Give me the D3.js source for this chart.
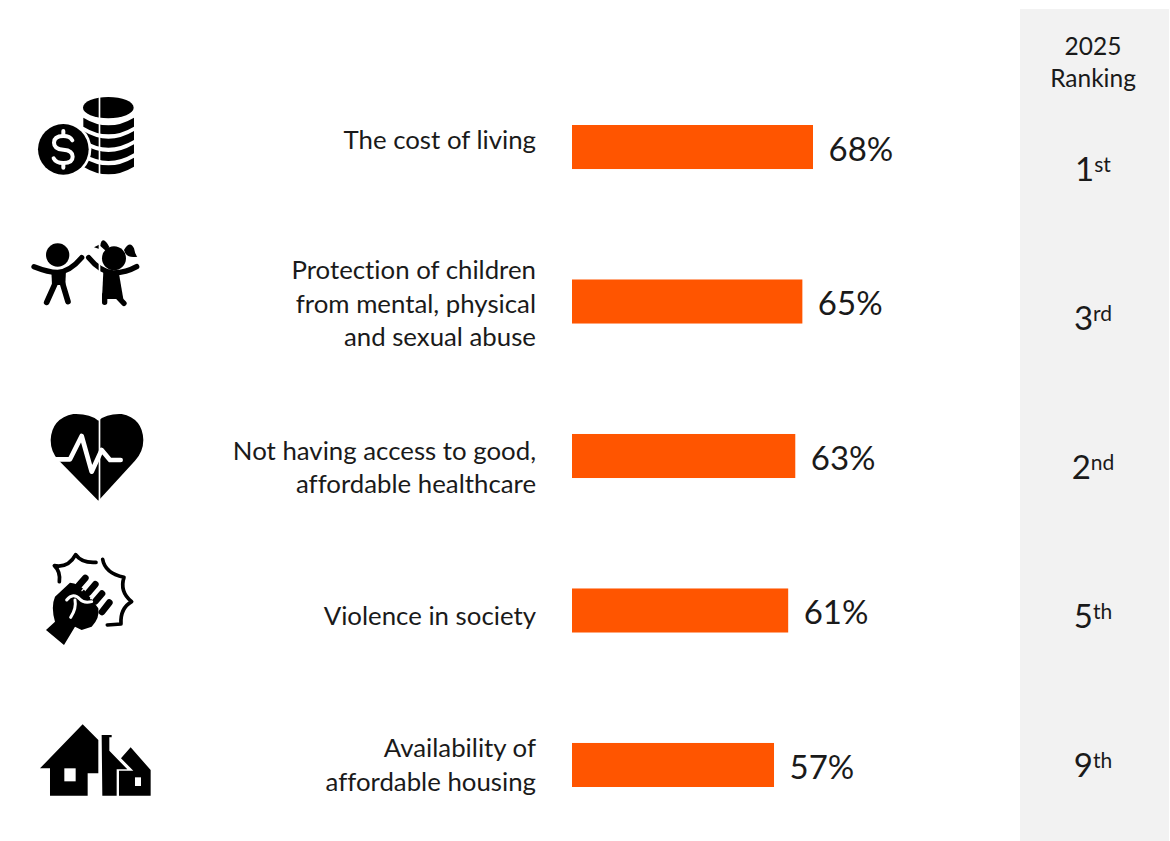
<!DOCTYPE html>
<html>
<head>
<meta charset="utf-8">
<script src="https://cdnjs.cloudflare.com/ajax/libs/d3/7.8.5/d3.min.js"></script>
<style>
  html, body { margin: 0; padding: 0; background: #fff; }
  svg { display: block; }
  text { font-family: Lato, "Open Sans", sans-serif; fill: #1a1a1a; font-variant-ligatures: none; }
</style>
</head>
<body>
<div id="chart"></div>
<script>
// data
var categories = [
  ["The cost of living"],
  ["Protection of children", "from mental, physical", "and sexual abuse"],
  ["Not having access to good,", "affordable healthcare"],
  ["Violence in society"],
  ["Availability of", "affordable housing"]
];
var values = [68, 65, 63, 61, 57];
var rankNumbers = ["1", "3", "2", "5", "9"];
var rankSuffixes = ["st", "rd", "nd", "th", "th"];
var rankHeader = ["2025", "Ranking"];

var width = 1170, height = 841;
var barColour = "#ff5500";
var barStart = 572;
var lineHeight = 33.5;
// the labels do not sit quite centred on the bars in the original
var labelShift = [-7, 2, 11.5, 5, 0];

var svg = d3.select("#chart").append("svg")
    .attr("width", width)
    .attr("height", height);

var x = d3.scaleLinear().domain([0, 68]).range([0, 241]);

var y = d3.scaleBand()
    .domain(d3.range(values.length))
    .range([125, 787])
    .paddingInner(0.715)
    .paddingOuter(0);

var yRank = d3.scalePoint()
    .domain(d3.range(rankNumbers.length))
    .range([169, 765]);

// ranking panel
svg.append("rect")
    .attr("x", 1020).attr("y", 9)
    .attr("width", 149).attr("height", 832)
    .attr("fill", "#f2f2f2");

svg.selectAll(".rank-head")
    .data(rankHeader)
  .enter().append("text")
    .attr("class", "rank-head")
    .attr("x", 1093)
    .attr("y", function(d, i) { return 46 + i * 32; })
    .attr("dy", "0.35em")
    .attr("text-anchor", "middle")
    .style("font-size", "24.5px")
    .text(function(d) { return d; });

var ranks = svg.selectAll(".rank")
    .data(rankNumbers)
  .enter().append("text")
    .attr("class", "rank")
    .attr("x", 1093)
    .attr("y", function(d, i) { return yRank(i); })
    .attr("dy", "0.35em")
    .attr("text-anchor", "middle")
    .style("font-size", "33px");

ranks.append("tspan").text(function(d) { return d; });
ranks.append("tspan")
    .attr("dy", "-0.42em")
    .style("font-size", "21px")
    .text(function(d, i) { return rankSuffixes[i]; });

// bars
svg.selectAll(".bar")
    .data(values)
  .enter().append("rect")
    .attr("class", "bar")
    .attr("x", barStart)
    .attr("y", function(d, i) { return y(i); })
    .attr("width", function(d) { return x(d); })
    .attr("height", y.bandwidth())
    .attr("fill", barColour);

svg.selectAll(".value")
    .data(values)
  .enter().append("text")
    .attr("class", "value")
    .attr("x", function(d) { return barStart + x(d) + 15.5; })
    .attr("y", function(d, i) { return y(i) + y.bandwidth() / 2 + 2; })
    .attr("dy", "0.35em")
    .style("font-size", "33px")
    .text(function(d) { return d + "%"; });

// category labels
var labels = svg.selectAll(".label")
    .data(categories)
  .enter().append("text")
    .attr("class", "label")
    .attr("text-anchor", "end")
    .style("font-size", "25.8px");

labels.selectAll("tspan")
    .data(function(d, i) {
      return d.map(function(line, j) {
        var mid = y(i) + y.bandwidth() / 2 + labelShift[i];
        return { line: line, y: mid + (j - (d.length - 1) / 2) * lineHeight };
      });
    })
  .enter().append("tspan")
    .attr("x", 536)
    .attr("y", function(d) { return d.y; })
    .attr("dy", "0.35em")
    .text(function(d) { return d.line; });

// icons, paths drawn at 3x and scaled down
function icon(ox, oy) {
  return svg.append("g")
      .attr("class", "icon")
      .attr("transform", "translate(" + ox + "," + oy + ") scale(0.3333)");
}
function fill(g, d, c) { return g.append("path").attr("d", d).attr("fill", c || "#000"); }
function line(g, d, w, c) {
  return g.append("path").attr("d", d).attr("fill", "none")
      .attr("stroke", c || "#000").attr("stroke-width", w)
      .attr("stroke-linecap", "round").attr("stroke-linejoin", "round");
}

// coins
var coins = icon(20, 85);
coins.append("ellipse").attr("cx", 265).attr("cy", 68).attr("rx", 76).attr("ry", 32);
[98, 138, 178, 218].forEach(function(t) {
  fill(coins, "M190," + t + " Q265," + (t + 46) + " 342," + t + " V" + (t + 27) +
    " Q265," + (t + 73) + " 190," + (t + 27) + "Z");
});
coins.append("rect").attr("x", 236).attr("y", 34).attr("width", 5).attr("height", 240).attr("fill", "#fff");
coins.append("circle").attr("cx", 130).attr("cy", 193).attr("r", 84).attr("fill", "#fff");
coins.append("circle").attr("cx", 130).attr("cy", 193).attr("r", 76);
line(coins, "M157,166 Q150,153 130,153 Q102,153 102,173 Q102,192 130,194 Q158,196 158,215 Q158,234 130,234 Q108,234 101,220", 12, "#fff");
line(coins, "M130,138 V152 M130,235 V248", 12, "#fff");

// children
var kids = icon(20, 85);
kids.append("circle").attr("cx", 113).attr("cy", 510).attr("r", 35);
line(kids, "M42,545 Q85,562 113,562 Q150,560 185,518", 16);
fill(kids, "M94,555 H138 L136,600 H96Z");
line(kids, "M108,590 L80,652 M126,590 L144,650", 17);
kids.append("circle").attr("cx", 282).attr("cy", 520).attr("r", 36);
fill(kids, "M240,482 Q248,448 268,486 L258,498Z");
fill(kids, "M312,495 Q330,465 342,490 Q345,508 352,515 Q325,520 316,505Z");
fill(kids, "M222,487 L240,478 L238,492Z");
line(kids, "M206,518 Q240,560 280,564 Q320,562 350,545", 16);
fill(kids, "M250,560 H296 L310,642 H246Z");
line(kids, "M254,630 V652 M288,630 L312,655", 16);
kids.append("rect").attr("x", 236).attr("y", 455).attr("width", 5).attr("height", 210).attr("fill", "#fff");

// heart
var heart = icon(20, 400);
fill(heart, "M235,302 L115,180 Q92,155 92,120 Q95,55 160,42 Q210,40 235,62 Q260,40 305,42 Q368,55 370,120 Q370,155 345,182Z");
line(heart, "M108,178 H150 L185,108 L215,215 L245,150 L270,180 H302", 14, "#fff");
heart.append("rect").attr("x", 236).attr("y", 40).attr("width", 5).attr("height", 265).attr("fill", "#fff");

// fist in a burst
var fist = icon(20, 400);
line(fist, "M118,545 Q122,515 103,497 Q145,505 167,464 Q185,490 228,487 M248,478 Q255,520 312,532 Q298,575 335,605 Q300,625 303,672 L262,675", 11);
fill(fist, "M78,690 L105,665 Q92,620 105,590 L150,548 Q175,550 195,572 L235,625 Q240,655 215,680 L185,690 L165,680 L132,735Z");
line(fist, "M175,558 L196,534 M205,578 L226,553 M226,604 L246,581 M246,636 L268,608", 20);
line(fist, "M186,572 L208,548 M212,596 L234,572 M236,622 L256,598", 4, "#fff");
line(fist, "M140,600 Q160,575 180,598 Q190,610 215,605 M165,600 Q170,625 152,652", 9, "#fff");

// houses
var house = icon(20, 710);
fill(house, "M60,175 L188,43 L235,90 V190 H203 V257 H90 V175Z");
house.append("rect").attr("x", 133).attr("y", 175).attr("width", 34).attr("height", 39).attr("fill", "#fff");
fill(house, "M245,75 H275 V82 H268 V122 L322,178 H290 V257 H247Z");
fill(house, "M332,112 L392,180 V257 H297 V182 H340 L303,145Z");
house.append("rect").attr("x", 345).attr("y", 202).attr("width", 18).attr("height", 26).attr("fill", "#fff");
</script>
</body>
</html>
